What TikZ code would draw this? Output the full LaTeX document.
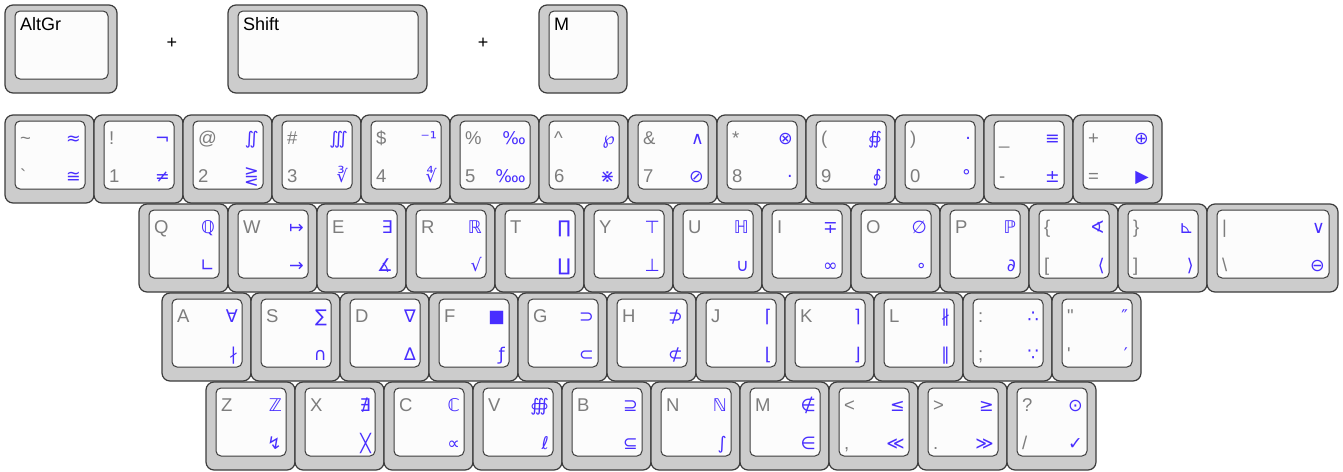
\documentclass[tikz,border=0pt]{standalone}
\usepackage{fontspec}
\newfontfamily\keyfont{Liberation Sans}
\newfontfamily\symfont{DejaVu Sans}
\definecolor{capgray}{RGB}{204,204,204}
\definecolor{capface}{RGB}{252,252,252}
\definecolor{capedge}{RGB}{60,60,60}
\definecolor{lblgray}{RGB}{125,125,125}
\definecolor{symblue}{RGB}{72,46,255}
\tikzset{
  keyouter/.style={fill=capgray,draw=capedge,line width=1.2pt,rounded corners=8pt},
  keyinner/.style={fill=capface,draw=capedge,line width=1pt,rounded corners=5pt},
  graylbl/.style={anchor=base west,inner sep=0pt,text=lblgray,font=\keyfont\fontsize{18.5}{22}\selectfont},
  bluelbl/.style={anchor=base east,inner sep=0pt,text=symblue,font=\symfont\fontsize{17.5}{20}\selectfont},
  blacklbl/.style={anchor=base west,inner sep=0pt,text=black,font=\keyfont\fontsize{18}{22}\selectfont}
}
\newcommand{\keycap}[8]{%
  \draw[keyouter] (#2,#3) rectangle (#2+#4,#3+88);
  \draw[keyinner] (#2+10,#3+6) rectangle (#2+#4-9,#3+74);
  \node[graylbl] (#1ul) at (#2+15,#3+29) {#5};
  \node[graylbl] (#1ll) at (#2+15,#3+67) {#6};
  \node[bluelbl] (#1ur) at (#2+#4-13,#3+29) {#7};
  \node[bluelbl] (#1lr) at (#2+#4-13,#3+67) {#8};
}
\newcommand{\topkey}[4]{%
  \draw[keyouter] (#2,5) rectangle (#2+#3,93);
  \draw[keyinner] (#2+10,11) rectangle (#2+#3-9,79);
  \node[blacklbl] (#1) at (#2+15,30) {#4};
}
\begin{document}
\begin{tikzpicture}[x=1pt,y=-1pt]
\useasboundingbox (0,0) rectangle (1343,471);

\topkey{altgr}{5}{112}{AltGr}
\topkey{shift}{228}{199}{Shift}
\topkey{mkey}{539}{88}{M}
\node[font=\keyfont\fontsize{18}{22}\selectfont] (plusa) at (172,43) {+};
\node[font=\keyfont\fontsize{18}{22}\selectfont] (plusb) at (483,43) {+};

\keycap{grave}{5}{115}{89}{\textasciitilde}{\symbol{"60}}{≈}{≅}
\keycap{one}{94}{115}{89}{!}{1}{¬}{≠}
\keycap{two}{183}{115}{89}{@}{2}{∬}{⋛}
\keycap{three}{272}{115}{89}{\#}{3}{∭}{∛}
\keycap{four}{361}{115}{89}{\$}{4}{⁻¹}{∜}
\keycap{five}{450}{115}{89}{\%}{5}{‰}{‱}
\keycap{six}{539}{115}{89}{\textasciicircum}{6}{℘}{⋇}
\keycap{seven}{628}{115}{89}{\&}{7}{∧}{⊘}
\keycap{eight}{717}{115}{89}{*}{8}{⊗}{·}
\keycap{nine}{806}{115}{89}{(}{9}{∯}{∮}
\keycap{zero}{895}{115}{89}{)}{0}{·}{°}
\keycap{minus}{984}{115}{89}{\_}{-}{≡}{±}
\keycap{equal}{1073}{115}{89}{+}{=}{⊕}{▶}

\keycap{q}{139}{204}{89}{Q}{}{ℚ}{∟}
\keycap{w}{228}{204}{89}{W}{}{↦}{→}
\keycap{e}{317}{204}{89}{E}{}{∃}{∡}
\keycap{r}{406}{204}{89}{R}{}{ℝ}{√}
\keycap{t}{495}{204}{89}{T}{}{∏}{∐}
\keycap{y}{584}{204}{89}{Y}{}{⊤}{⊥}
\keycap{u}{673}{204}{89}{U}{}{ℍ}{∪}
\keycap{i}{762}{204}{89}{I}{}{∓}{∞}
\keycap{o}{851}{204}{89}{O}{}{∅}{∘}
\keycap{p}{940}{204}{89}{P}{}{ℙ}{∂}
\keycap{lbrack}{1029}{204}{89}{\{}{[}{∢}{⟨}
\keycap{rbrack}{1118}{204}{89}{\}}{]}{⊾}{⟩}
\keycap{bslash}{1207}{204}{131}{|}{\textbackslash}{∨}{⊖}

\keycap{a}{162}{293}{89}{A}{}{∀}{∤}
\keycap{s}{251}{293}{89}{S}{}{∑}{∩}
\keycap{d}{340}{293}{89}{D}{}{∇}{∆}
\keycap{f}{429}{293}{89}{F}{}{■}{ƒ}
\keycap{g}{518}{293}{89}{G}{}{⊃}{⊂}
\keycap{h}{607}{293}{89}{H}{}{⊅}{⊄}
\keycap{j}{696}{293}{89}{J}{}{⌈}{⌊}
\keycap{k}{785}{293}{89}{K}{}{⌉}{⌋}
\keycap{l}{874}{293}{89}{L}{}{∦}{∥}
\keycap{semi}{963}{293}{89}{:}{;}{∴}{∵}
\keycap{quote}{1052}{293}{89}{"}{\symbol{"27}}{″}{′}

\keycap{z}{206}{382}{89}{Z}{}{ℤ}{↯}
\keycap{x}{295}{382}{89}{X}{}{∄}{╳}
\keycap{c}{384}{382}{89}{C}{}{ℂ}{∝}
\keycap{v}{473}{382}{89}{V}{}{∰}{ℓ}
\keycap{b}{562}{382}{89}{B}{}{⊇}{⊆}
\keycap{n}{651}{382}{89}{N}{}{ℕ}{∫}
\keycap{m}{740}{382}{89}{M}{}{∉}{∈}
\keycap{comma}{829}{382}{89}{<}{,}{≤}{≪}
\keycap{period}{918}{382}{89}{>}{.}{≥}{≫}
\keycap{slash}{1007}{382}{89}{?}{/}{⊙}{✓}
\end{tikzpicture}
\end{document}
